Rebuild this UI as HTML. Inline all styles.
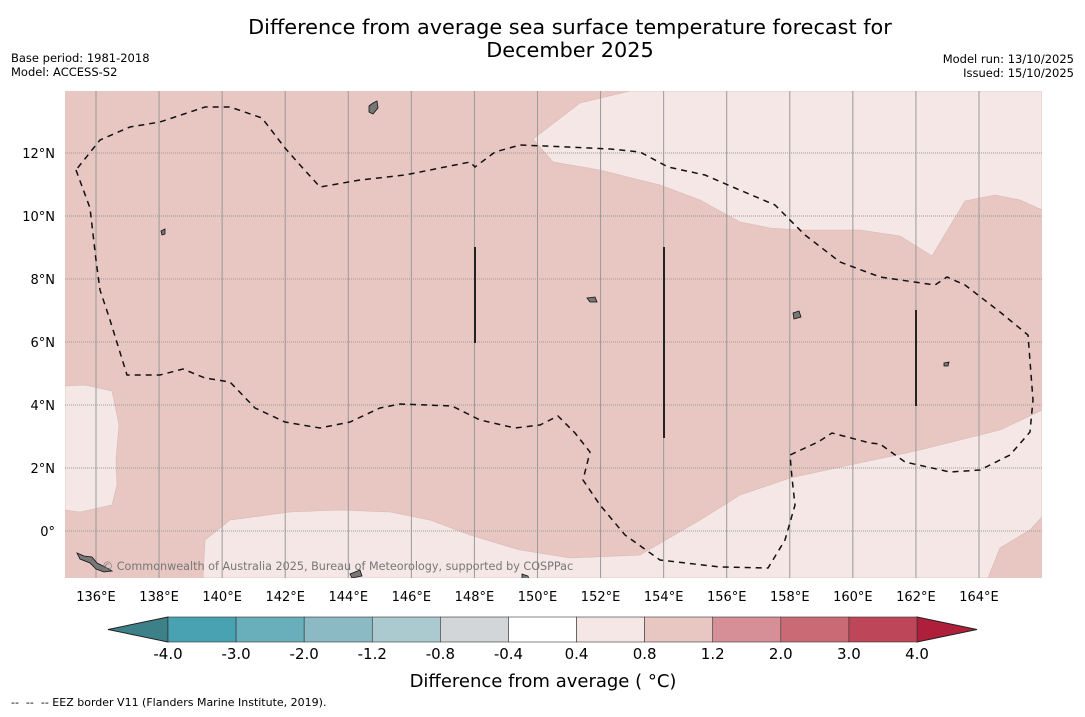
<!DOCTYPE html>
<html><head><meta charset="utf-8"><style>
body{margin:0;background:#fff;width:1085px;height:713px;overflow:hidden;font-family:"DejaVu Sans","Liberation Sans",sans-serif}
svg text{font-family:"DejaVu Sans","Liberation Sans",sans-serif}
</style></head><body>
<svg id="c" width="1085" height="713" xmlns="http://www.w3.org/2000/svg">
<text x="570" y="34" font-size="20.8" text-anchor="middle">Difference from average sea surface temperature forecast for</text>
<text x="570" y="57" font-size="20.8" text-anchor="middle">December 2025</text>
<text x="11" y="62" font-size="11.5">Base period: 1981-2018</text>
<text x="11" y="76" font-size="11.5">Model: ACCESS-S2</text>
<text x="1074" y="63" font-size="11.5" text-anchor="end">Model run: 13/10/2025</text>
<text x="1074" y="77" font-size="11.5" text-anchor="end">Issued: 15/10/2025</text>
<defs><clipPath id="mc"><rect x="65" y="91" width="977" height="487"/></clipPath></defs>
<g id="map" clip-path="url(#mc)">
<rect x="65" y="91" width="977" height="487" fill="#e8c7c3"/>
<polygon fill="#f4e7e6" stroke="#d9b7b3" stroke-width="0.6" points="533,139 580,103 630,91 1042,91 1042,210 1020,200 995,195 965,201 932,256 900,236 860,230 800,230 770,228 740,222 700,200 660,185 600,170 553,162"/>
<polygon fill="#f4e7e6" stroke="#d9b7b3" stroke-width="0.6" points="65,386 85,385 112,391 119,425 116,460 117,485 112,505 80,512 65,510"/>
<polygon fill="#f4e7e6" stroke="#d9b7b3" stroke-width="0.6" points="203,578 205,540 230,520 290,512 340,510 390,512 430,520 470,535 520,550 570,558 640,555 700,520 740,495 790,478 850,465 920,450 1000,430 1042,410 1042,517 1030,530 1000,548 988,578"/>
<g id="grid"></g>
<polyline fill="none" stroke="#111" stroke-width="1.5" stroke-dasharray="6,5" points="76,170 90,208 96,260 100,290 110,320 127,375 160,375 183,369 205,378 230,382 255,408 285,422 320,428 350,422 380,408 400,404 452,406 480,420 515,428 540,425 558,416 575,433 590,452 583,480 600,505 625,535 660,560 720,567 768,568 785,540 795,505 792,478 790,455 818,442 832,433 870,443 880,444 905,462 950,472 980,470 1010,455 1030,432 1033,400 1028,335 1000,312 965,285 947,277 935,285 880,277 840,262 805,235 775,205 735,188 705,175 668,167 640,152 610,149 545,146 520,145 495,152 475,167 470,162 405,175 360,180 320,187 300,165 285,148 262,118 230,107 205,107 175,117 160,122 130,127 100,140 76,170"/>
<line x1="475" y1="247" x2="475" y2="343" stroke="#222" stroke-width="2"/>
<line x1="664" y1="247" x2="664" y2="438" stroke="#222" stroke-width="2"/>
<line x1="916" y1="310" x2="916" y2="406" stroke="#222" stroke-width="2"/>
<g fill="#777" stroke="#111" stroke-width="0.8">
<polygon points="77,553 84,556 92,557 97,563 105,567 112,571 104,572 96,569 90,563 80,559"/>
<polygon points="369,106 373,103 377,101 378,108 373,114 369,112"/>
<polygon points="793,313 799,311 801,317 794,319"/>
<polygon points="587,298 595,297 597,302 590,302"/>
<polygon points="944,363 949,362 948,366 944,366"/>
<polygon points="161,231 165,229 165,234 162,235"/>
<polygon points="522,574 528,576 529,580 522,580"/>
<polygon points="350,574 360,570 362,576 352,578"/>
</g>
<text x="102" y="570" font-size="11.2" fill="#777">© Commonwealth of Australia 2025, Bureau of Meteorology, supported by COSPPac</text>
</g>
<g id="axes"></g>
<g id="cbar"></g>
<text x="543" y="687" font-size="18" text-anchor="middle">Difference from average ( °C)</text>
<text x="11" y="706" font-size="11" xml:space="preserve">--  --  -- EEZ border V11 (Flanders Marine Institute, 2019).</text>
</svg>
<script>
const lonTicks=[136,138,140,142,144,146,148,150,152,154,156,158,160,162,164];
const latTicks=[0,2,4,6,8,10,12];
const latLabels=["0°","2°N","4°N","6°N","8°N","10°N","12°N"];
const cbBounds=[-4.0,-3.0,-2.0,-1.2,-0.8,-0.4,0.4,0.8,1.2,2.0,3.0,4.0];
const cbColors=["#48a2b1","#68aebb","#8bb9c4","#abcacf","#d2d6d8","#ffffff","#f4e7e6","#e8c7c3","#d68f96","#c96a74","#bd4759"];
const NS="http://www.w3.org/2000/svg";
const xLon=l=>96+(l-136)*(979-96)/28;
const yLat=l=>531-l*31.5;
function mk(t,a,p){const e=document.createElementNS(NS,t);for(const k in a)e.setAttribute(k,a[k]);p.appendChild(e);return e;}
const grid=document.getElementById('grid'),axes=document.getElementById('axes'),cb=document.getElementById('cbar');
lonTicks.forEach(l=>{
 const g=mk('line',{x1:xLon(l),x2:xLon(l),y1:91,y2:578,stroke:'#999','stroke-width':1},grid);
 
 
 const t=mk('text',{x:xLon(l),y:601,'font-size':13,'text-anchor':'middle'},axes);t.textContent=l+'°E';
 
 
});
latTicks.forEach((l,i)=>{
 const g=mk('line',{x1:65,x2:1042,y1:yLat(l),y2:yLat(l),stroke:'#999','stroke-width':1,'stroke-dasharray':'1,1'},grid);
 
 
 const t=mk('text',{x:55,y:yLat(l)+5,'font-size':13,'text-anchor':'end'},axes);t.textContent=latLabels[i];
 
 
});
const cx0=168,cx1=917,cy=617,ch=25,n=cbColors.length,w=(cx1-cx0)/n;
const lt=mk('polygon',{points:`${cx0},${cy} 108,${cy+ch/2} ${cx0},${cy+ch}`,fill:'#3c8088',stroke:'#222','stroke-width':1},cb);


const rt=mk('polygon',{points:`${cx1},${cy} 977,${cy+ch/2} ${cx1},${cy+ch}`,fill:'#b01f3a',stroke:'#222','stroke-width':1},cb);


cbColors.forEach((c,i)=>{
 const r=mk('rect',{x:cx0+i*w,y:cy,width:w,height:ch,fill:c,stroke:'#333','stroke-width':0.6},cb);
 
 
});
cbBounds.forEach((b,i)=>{
 const t=mk('text',{x:cx0+i*w,y:659,'font-size':15,'text-anchor':'middle'},cb);t.textContent=b.toFixed(1);
 
 
});
</script>
</body></html>
